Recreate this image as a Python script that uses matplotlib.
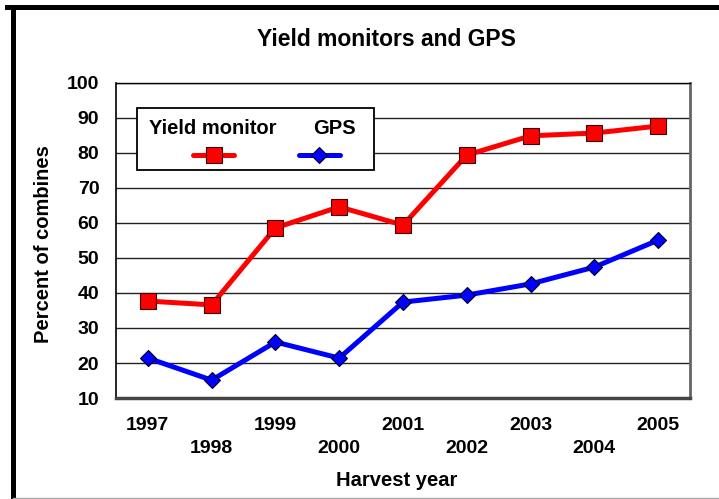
import matplotlib
matplotlib.use("Agg")
import matplotlib.pyplot as plt
from matplotlib.lines import Line2D
from matplotlib.patches import Rectangle

plt.rcParams['font.family'] = ['Liberation Sans', 'DejaVu Sans']
plt.rcParams['font.weight'] = 'bold'

years = ['1997', '1998', '1999', '2000', '2001', '2002', '2003', '2004', '2005']
yield_monitor = [37.7, 36.6, 58.6, 64.6, 59.4, 79.4, 84.9, 85.7, 87.7]
gps = [21.4, 15.1, 26.0, 21.4, 37.4, 39.4, 42.6, 47.4, 55.1]

fig = plt.figure(figsize=(7.19, 4.99), dpi=100)
ax = fig.add_axes([0.1613, 0.2024, 0.7984, 0.6313])

x = list(range(len(years)))
ax.plot(x, yield_monitor, color='#ff0000', lw=3.6, marker='s', ms=11.5,
        mfc='#ff0000', mec='#400000', mew=0.8, zorder=3)
ax.plot(x, gps, color='#0000ff', lw=3.6, marker='D', ms=8.5,
        mfc='#0000ff', mec='#000020', mew=0.8, zorder=3)

ax.set_xlim(-0.5, len(years) - 0.5)
ax.set_ylim(10, 100)
ax.set_yticks(range(10, 101, 10))
ax.yaxis.grid(True, color='#222222', lw=1.0)
ax.set_axisbelow(True)
ax.tick_params(axis='y', length=0, pad=12, labelsize=14)
ax.tick_params(axis='x', length=0, labelsize=14)

ax.set_xticks(x)
ax.set_xticklabels(years)
for i, lab in enumerate(ax.get_xticklabels()):
    lab.set_y(-0.045 if i % 2 == 0 else -0.118)

ax.spines['left'].set_color('black')
ax.spines['left'].set_linewidth(1.2)
ax.spines['top'].set_color('black')
ax.spines['top'].set_linewidth(1.0)
ax.spines['bottom'].set_color('#444444')
ax.spines['bottom'].set_linewidth(2.5)
ax.spines['right'].set_color('#666666')
ax.spines['right'].set_linewidth(2.0)

ax.set_xlabel('Harvest year', fontsize=14.5, fontweight='bold')
ax.xaxis.set_label_coords(0.489, -0.233)
ax.set_ylabel('Percent of combines', fontsize=14.5, fontweight='bold')
ax.yaxis.set_label_coords(-0.11, 0.49)
fig.text(0.537, 0.92, 'Yield monitors and GPS', ha='center', va='center',
         fontsize=16.5, fontweight='bold')

# legend box drawn by hand (labels sit above their line samples)
ax.add_patch(Rectangle((0.0366, 0.7238), 0.4124, 0.1968, transform=ax.transAxes,
                       facecolor='white', edgecolor='black', lw=1.3, zorder=4))
ax.text(0.169, 0.855, 'Yield monitor', transform=ax.transAxes, ha='center',
        va='center', fontsize=14.5, fontweight='bold', zorder=5)
ax.text(0.38, 0.855, 'GPS', transform=ax.transAxes, ha='center',
        va='center', fontsize=14.5, fontweight='bold', zorder=5)
ax.plot([0.134, 0.206], [0.772, 0.772], transform=ax.transAxes, color='#ff0000',
        lw=3.6, solid_capstyle='round', zorder=5)
ax.plot([0.170], [0.772], transform=ax.transAxes, marker='s', ms=11.5,
        mfc='#ff0000', mec='#400000', mew=0.8, zorder=6)
ax.plot([0.318, 0.39], [0.772, 0.772], transform=ax.transAxes, color='#0000ff',
        lw=3.6, solid_capstyle='round', zorder=5)
ax.plot([0.354], [0.772], transform=ax.transAxes, marker='D', ms=8.5,
        mfc='#0000ff', mec='#000020', mew=0.8, zorder=6)

# outer frame
fig.add_artist(Line2D([0.0174, 0.0174], [0.0, 0.985], color='black', lw=3.6))
fig.add_artist(Line2D([0.01, 1.0], [0.985, 0.985], color='black', lw=3.6))
fig.add_artist(Line2D([0.0174, 1.0], [0.003, 0.003], color='#aaaaaa', lw=1.0))

fig.savefig('out.png', dpi=100)
